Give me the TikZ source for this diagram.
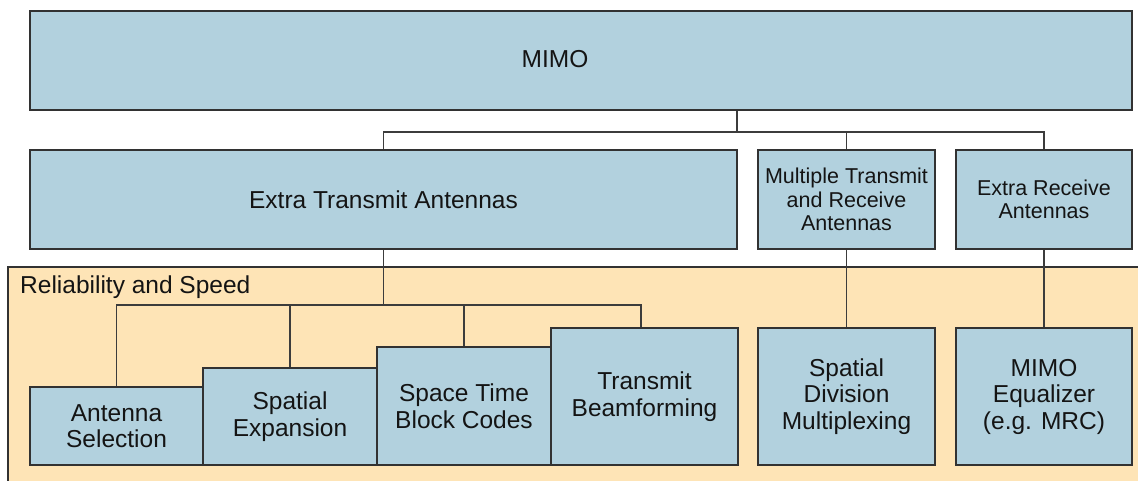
\documentclass[tikz,border=0pt]{standalone}
\usepackage{fontspec}
\setmainfont{Liberation Sans}
\definecolor{boxblue}{RGB}{178,209,222}
\definecolor{panelorange}{RGB}{254,228,182}
\definecolor{boxline}{RGB}{50,50,50}
\definecolor{wirec}{RGB}{60,60,60}
\definecolor{textdark}{RGB}{20,20,20}
\begin{document}
\begin{tikzpicture}[x=1pt,y=-1pt,
  box/.style={draw=boxline, line width=1.3pt, fill=boxblue, inner sep=0pt, align=center, text=textdark},
  big/.style={font=\fontsize{24.5}{26.5}\selectfont},
  small/.style={font=\fontsize{21.5}{23.5}\selectfont},
  wire/.style={draw=wirec, line width=1.2pt}]
\useasboundingbox (0,0) rectangle (1138,480);
% panel
\fill[panelorange] (8,267) rectangle (1150,490);
\draw[boxline, line width=1.1pt] (8,490) -- (8,267) -- (1150,267);
\node[anchor=west, big, text=textdark, inner sep=0pt] (rel) at (20,287) {Reliability and Speed};
% top
\node[box, minimum width=1102pt, minimum height=99pt] (mimo) at (581,60.5) {};
\node[big, text=textdark, inner sep=0pt] (mimolabel) at (555,59.5) {MIMO};
% second row
\node[box, big, minimum width=707pt, minimum height=99pt] (eta) at (383.5,199.5) {Extra Transmit Antennas};
\node[box, small, minimum width=177pt, minimum height=99pt] (mtra) at (846.5,199.5) {Multiple Transmit\\and Receive\\Antennas};
\node[box, small, minimum width=176pt, minimum height=99pt] (era) at (1044,199.5) {Extra Receive\\Antennas};
% bottom row
\node[box, big, minimum width=173pt, minimum height=78pt] (as) at (116.5,426) {Antenna\\Selection};
\node[box, big, minimum width=174pt, minimum height=97pt] (se) at (290,416.5) {Spatial\\Expansion};
\node[box, big, minimum width=174pt, minimum height=118pt] (stbc) at (464,406) {Space Time\\Block Codes};
\node[box, big, minimum width=187pt, minimum height=137pt] (tb) at (644.5,396.5) {Transmit\\Beamforming};
\node[box, big, minimum width=177pt, minimum height=137pt] (sdm) at (846.5,396.5) {Spatial\\Division\\Multiplexing};
\node[box, big, minimum width=176pt, minimum height=137pt] (eq) at (1044,396.5) {MIMO\\Equalizer\\(e.g. MRC)};
% connectors top
\coordinate (b1) at (737,132);
\draw[wire] (mimo.south -| b1) -- (b1);
\draw[wire] (eta.north) -- (eta.north |- b1) -- (era.north |- b1) -- (era.north);
\draw[wire] (mtra.north |- b1) -- (mtra.north);
% connectors bottom
\coordinate (b2) at (383.5,305);
\draw[wire] (eta.south) -- (b2);
\draw[wire] (as.north) -- (as.north |- b2) -- (641,305) coordinate (b3) -- (b3 |- tb.north);
\draw[wire] (se.north |- b2) -- (se.north);
\draw[wire] (stbc.north |- b2) -- (stbc.north);
\draw[wire] (mtra.south) -- (sdm.north);
\draw[wire] (era.south) -- (eq.north);
\end{tikzpicture}
\end{document}
